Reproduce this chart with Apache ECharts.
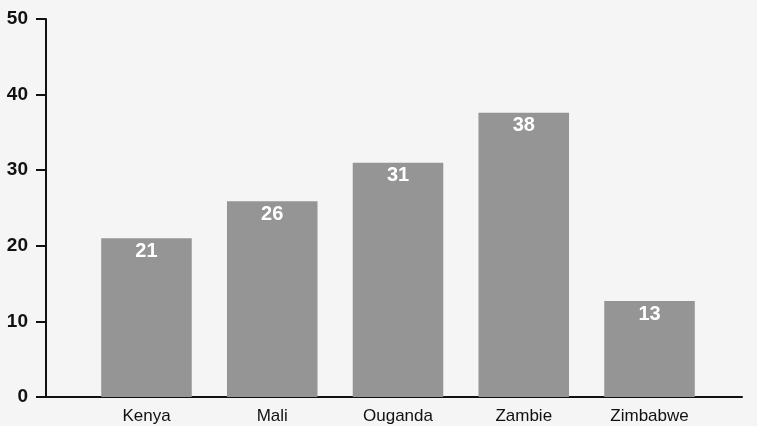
<!DOCTYPE html>
<html>
<head>
<meta charset="utf-8">
<script src="https://cdn.jsdelivr.net/npm/echarts@6/dist/echarts.min.js"></script>
<style>
html,body{margin:0;padding:0;background:#f5f5f5;}
#c{width:757px;height:426px;}
</style>
</head>
<body>
<div id="c"></div>
<script>
const categories = ['Kenya', 'Mali', 'Ouganda', 'Zambie', 'Zimbabwe'];
const values = [21.0, 25.9, 31.0, 37.6, 12.7];
const yTicks = [0, 10, 20, 30, 40, 50];

const chart = echarts.init(document.getElementById('c'));
const font = '"Liberation Sans", Arial, sans-serif';
chart.setOption({
  backgroundColor: '#f5f5f5',
  animation: false,
  grid: [
    {left: 46, right: 15, top: 19, bottom: 29},
    {left: 83.6, right: 44.6, top: 19, bottom: 29}
  ],
  xAxis: [
    {gridIndex: 0, type: 'category', data: [''], axisLine: {lineStyle: {color: '#111', width: 2}},
     axisTick: {show: false}, axisLabel: {show: false}},
    {gridIndex: 1, type: 'category', data: categories, axisLine: {show: false}, axisTick: {show: false},
     axisLabel: {color: '#111', fontSize: 17, fontFamily: font, margin: 11}}
  ],
  yAxis: [
    {gridIndex: 0, type: 'value', min: yTicks[0], max: yTicks[yTicks.length - 1], interval: 10,
     axisLine: {show: true, lineStyle: {color: '#111', width: 2}},
     axisTick: {show: true, length: 10, lineStyle: {color: '#111', width: 2}},
     splitLine: {show: false},
     axisLabel: {color: '#111', fontSize: 19, fontWeight: 'bold', fontFamily: font, margin: 18}},
    {gridIndex: 1, type: 'value', min: yTicks[0], max: yTicks[yTicks.length - 1], show: false, splitLine: {show: false}}
  ],
  series: [{
    type: 'bar', xAxisIndex: 1, yAxisIndex: 1, data: values, barWidth: '72%',
    itemStyle: {color: '#959595'},
    label: {show: true, position: 'insideTop', distance: 3, color: '#fff', fontWeight: 'bold', fontSize: 20,
      fontFamily: font, formatter: p => Math.round(p.value)}
  }]
});
</script>
</body>
</html>
